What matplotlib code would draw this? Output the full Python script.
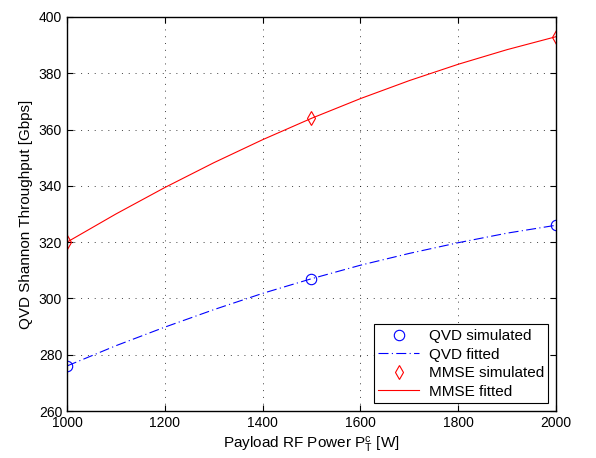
import numpy as np
import matplotlib.pyplot as plt

plt.rcParams['font.family'] = ['Liberation Sans', 'DejaVu Sans']
plt.rcParams['mathtext.fontset'] = 'custom'
plt.rcParams['mathtext.rm'] = 'Liberation Sans'
plt.rcParams['mathtext.it'] = 'Liberation Sans'
plt.rcParams['mathtext.default'] = 'regular'

# simulated points
power_sim = [1000, 1500, 2000]
qvd_sim = [276, 307, 326]
mmse_sim = [320, 364, 393]

# fitted curves, every 100 W
power_fit = [1000, 1100, 1200, 1300, 1400, 1500, 1600, 1700, 1800, 1900, 2000]
qvd_fit = [276.0, 283.2, 289.8, 296.0, 301.8, 307.0, 311.8, 316.0, 319.8, 323.2, 326.0]
mmse_fit = [320.0, 330.0, 339.4, 348.2, 356.4, 364.0, 371.0, 377.4, 383.2, 388.4, 393.0]

fig = plt.figure(figsize=(5.96, 4.58), dpi=100)
ax = fig.add_axes([0.1124, 0.1026, 0.8205, 0.8603])

ax.plot(power_sim, qvd_sim, 'o', color='blue', mfc='none', ms=7.5, mew=0.8, label='QVD simulated')
ax.plot(power_fit, qvd_fit, color='blue', lw=0.8, dashes=(9, 3, 1, 3), label='QVD fitted')
ax.plot(power_sim, mmse_sim, 'd', color='red', mfc='none', ms=6.8, mew=0.8, label='MMSE simulated')
ax.plot(power_fit, mmse_fit, '-', color='red', lw=0.8, label='MMSE fitted')

ax.set_xlim(1000, 2000)
ax.set_ylim(260, 400)
ax.set_xticks(np.arange(1000, 2001, 200))
ax.set_yticks(np.arange(260, 401, 20))
ax.grid(True, linestyle=(0, (1, 6)), color='black', lw=0.7, alpha=0.75)
ax.tick_params(direction='in', top=True, right=True, labelsize=10, length=4, width=0.8)
for s in ax.spines.values():
    s.set_linewidth(1.0)

ax.set_xlabel('Payload RF Power $P_T^c$ [W]', fontsize=11)
ax.set_ylabel('QVD Shannon Throughput [Gbps]', fontsize=11)

leg = ax.legend(loc='lower right', fontsize=11, fancybox=False, framealpha=1,
                edgecolor='black', borderaxespad=0.5, handlelength=2.7,
                labelspacing=0.3, borderpad=0.3, handletextpad=0.6)
leg.get_frame().set_linewidth(0.8)

fig.savefig('out.png', dpi=100)
